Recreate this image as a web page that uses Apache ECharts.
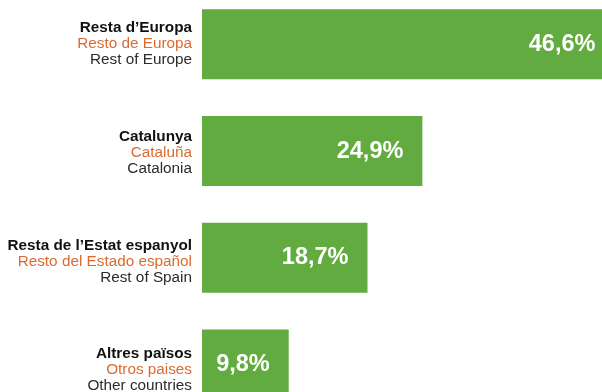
<!DOCTYPE html>
<html>
<head>
<meta charset="utf-8">
<script src="https://cdn.jsdelivr.net/npm/echarts@6/dist/echarts.min.js"></script>
<style>
  html, body { margin: 0; padding: 0; background: #ffffff; }
  #chart { width: 602px; height: 392px; }
</style>
</head>
<body>
<div id="chart"></div>
<script>
// Origin of visitors, share in percent (Catalan / Spanish / English names)
const namesCa = ['Resta d\u2019Europa', 'Catalunya', 'Resta de l\u2019Estat espanyol', 'Altres països'];
const namesEs = ['Resto de Europa', 'Cataluña', 'Resto del Estado español', 'Otros paises'];
const namesEn = ['Rest of Europe', 'Catalonia', 'Rest of Spain', 'Other countries'];
const shares = [46.6, 24.9, 18.7, 9.8];

const keys = namesCa.map((_, i) => String(i));
const FONT = '"Liberation Sans", Arial, Helvetica, sans-serif';

const chart = echarts.init(document.getElementById('chart'));
chart.setOption({
  animation: false,
  textStyle: { fontFamily: FONT },
  grid: [
    { left: 202, right: 0, top: -9, height: 426.8, outerBoundsMode: 'none', containLabel: false },
    { left: 202, right: 0, top: -10.4, height: 434.8, outerBoundsMode: 'none', containLabel: false }
  ],
  xAxis: [
    { gridIndex: 0, type: 'value', min: 0, max: 45.2, show: false },
    { gridIndex: 1, type: 'value', min: 0, max: 45.2, show: false }
  ],
  yAxis: [
    {
      gridIndex: 0, type: 'category', data: keys, inverse: true,
      axisLine: { show: false }, axisTick: { show: false }, axisLabel: { show: false }
    },
    {
      gridIndex: 1, type: 'category', data: keys, inverse: true,
      axisLine: { show: false }, axisTick: { show: false },
      axisLabel: {
        margin: 10,
        align: 'right',
        lineHeight: 16,
        formatter: (v) => {
          const i = Number(v);
          return '{ca|' + namesCa[i] + '}\n{es|' + namesEs[i] + '}\n{en|' + namesEn[i] + '}';
        },
        rich: {
          ca: { fontFamily: FONT, fontSize: 15.3, fontWeight: 'bold', color: '#111111', lineHeight: 16, align: 'right' },
          es: { fontFamily: FONT, fontSize: 15.3, color: '#da6a30', lineHeight: 16, align: 'right' },
          en: { fontFamily: FONT, fontSize: 15.3, color: '#2b2b2b', lineHeight: 16, align: 'right' }
        }
      }
    }
  ],
  series: [{
    type: 'bar',
    xAxisIndex: 0,
    yAxisIndex: 0,
    data: shares,
    barWidth: 70,
    clip: false,
    itemStyle: { color: '#62ab40' },
    label: {
      show: true,
      position: 'insideRight',
      distance: 19,
      color: '#ffffff',
      fontFamily: FONT,
      fontWeight: 'bold',
      fontSize: 23.5,
      formatter: (p) => p.value.toFixed(1).replace('.', ',') + '%'
    }
  }]
});
</script>
</body>
</html>
